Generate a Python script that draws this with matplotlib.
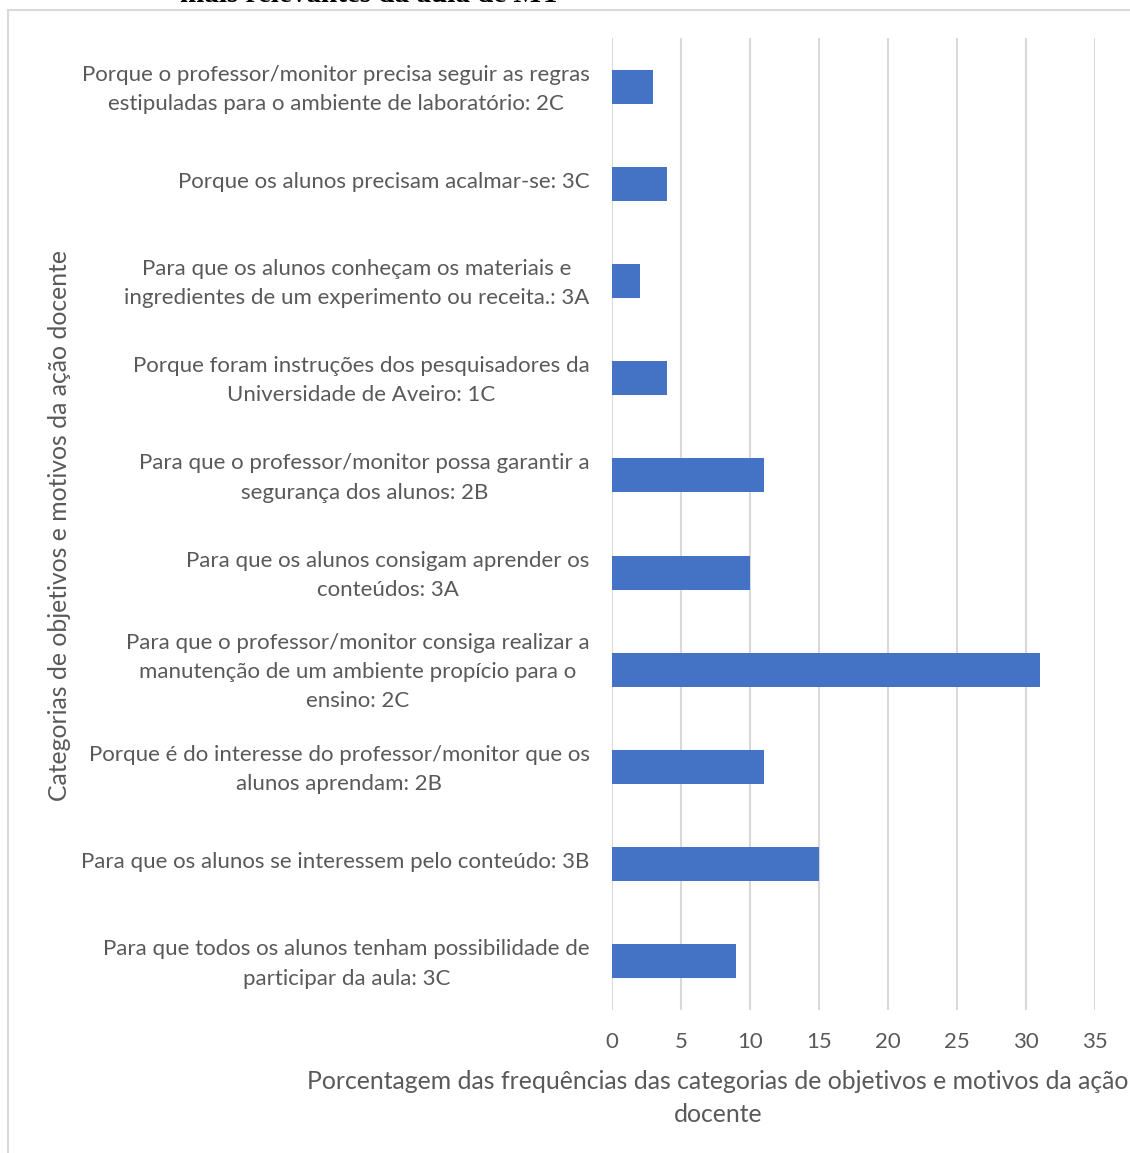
import matplotlib
matplotlib.use("Agg")
import matplotlib.pyplot as plt
from matplotlib.patches import Rectangle
from matplotlib.transforms import ScaledTranslation

categories = [
    "Porque o professor/monitor precisa seguir as regras\nestipuladas para o ambiente de laboratório: 2C",
    "Porque os alunos precisam acalmar-se: 3C",
    "Para que os alunos conheçam os materiais e\ningredientes de um experimento ou receita.: 3A",
    "Porque foram instruções dos pesquisadores da\nUniversidade de Aveiro: 1C",
    "Para que o professor/monitor possa garantir a\nsegurança dos alunos: 2B",
    "Para que os alunos consigam aprender os\nconteúdos: 3A",
    "Para que o professor/monitor consiga realizar a\nmanutenção de um ambiente propício para o\nensino: 2C",
    "Porque é do interesse do professor/monitor que os\nalunos aprendam: 2B",
    "Para que os alunos se interessem pelo conteúdo: 3B",
    "Para que todos os alunos tenham possibilidade de\nparticipar da aula: 3C",
]
values = [3, 4, 2, 4, 11, 10, 31, 11, 15, 9]
xticks = [0, 5, 10, 15, 20, 25, 30, 35]

W, H = 1130, 1153
fig = plt.figure(figsize=(W / 100, H / 100), dpi=100)
plt.rcParams['font.family'] = ['Lato', 'DejaVu Sans']
txt = '#595959'

# axes: x 612..1095, y 38..1010 (pixels from top)
ax = fig.add_axes([612 / W, 1 - 1010 / H, (1095 - 612) / W, (1010 - 38) / H])
ypos = list(range(len(categories)))
ax.barh(ypos, values, height=0.35, color='#4472C4', zorder=3)
ax.set_ylim(len(categories) - 0.5, -0.5)
ax.set_xlim(0, 35)
ax.set_xticks(xticks)
ax.set_xticklabels([str(t) for t in xticks], fontsize=16, color=txt)
ax.set_yticks(ypos)
ax.set_yticklabels(categories, fontsize=16, color=txt, multialignment='center',
                   linespacing=1.57)
ax.tick_params(axis='both', length=0)
ax.tick_params(axis='y', pad=16)
ax.tick_params(axis='x', pad=16)
ax.grid(axis='x', color='#d9d9d9', linewidth=1.5, zorder=0)
for s in ax.spines.values():
    s.set_visible(False)
shift = ScaledTranslation(0, 4 / 100, fig.dpi_scale_trans)
for lab in ax.get_yticklabels():
    lab.set_transform(lab.get_transform() + shift)

fig.text(718 / W, 1 - 1098 / H,
         "Porcentagem das frequências das categorias de objetivos e motivos da ação\ndocente",
         ha='center', va='center', fontsize=17.8, color=txt, linespacing=1.5)
fig.text(60 / W, 1 - 525 / H, "Categorias de objetivos e motivos da ação docente",
         rotation=90, ha='center', va='center', fontsize=17.8, color=txt)

# outer chart frame
fig.patches.append(Rectangle((8 / W, -0.01), 1.2, 1 - 10 / H + 0.01,
                             transform=fig.transFigure, fill=False,
                             edgecolor='#d9d9d9', linewidth=1.5))
fig.text(370 / W, 1 - 2 / H, "mais relevantes da aula de MT", ha='center',
         va='baseline', fontsize=21, fontweight='bold',
         family=['Liberation Serif', 'DejaVu Serif'], color='black')

fig.savefig("out.png", dpi=100)
